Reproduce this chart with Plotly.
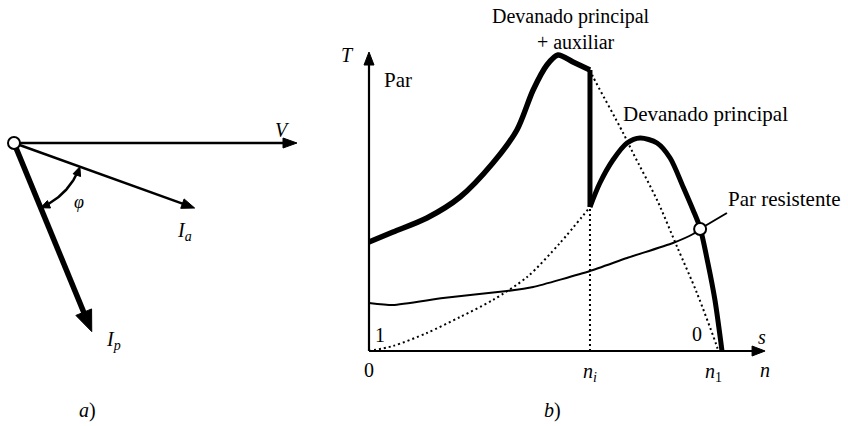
import numpy as np
import plotly.graph_objects as go

# ---------------- panel a) phasor data (magnitude, angle in degrees) ----------------
V_mag, V_ang = 2.83, 0.0
Ia_mag, Ia_ang = 1.92, -19.8
Ip_mag, Ip_ang = 2.04, -67.6
phi_radius = 0.70

# ---------------- panel b) torque-speed data ----------------
n_i = 0.626
n_1 = 1.0
# principal + auxiliary winding (thick, up to n_i)
aux_n = [0.0, 0.068, 0.164, 0.258, 0.351, 0.419, 0.465, 0.504, 0.535, 0.578, 0.626]
aux_T = [1.09, 1.19, 1.33, 1.54, 1.88, 2.21, 2.61, 2.86, 2.96, 2.89, 2.81]
# continuation of principal + auxiliary beyond n_i (dotted)
auxd_n = [0.626, 0.635, 0.720, 0.748, 0.816, 0.873, 0.929, 0.986, 0.989]
auxd_T = [2.81, 2.74, 2.18, 1.98, 1.51, 1.04, 0.58, 0.04, 0.0]
# principal winding alone below n_i (dotted)
prd_n = [0.0, 0.068, 0.164, 0.258, 0.351, 0.448, 0.541, 0.626]
prd_T = [0.0, 0.05, 0.18, 0.34, 0.51, 0.74, 1.08, 1.44]
# principal winding alone from n_i (thick)
pr_n = [0.626, 0.654, 0.691, 0.731, 0.768, 0.816, 0.853, 0.890, 0.918, 0.938, 0.960, 0.980, 1.0]
pr_T = [1.44, 1.68, 1.91, 2.08, 2.13, 2.08, 1.93, 1.64, 1.41, 1.23, 0.88, 0.51, 0.0]
# load torque (par resistente)
load_n = [0.0, 0.068, 0.210, 0.391, 0.465, 0.626, 0.731, 0.861, 0.918, 0.938, 1.014]
load_T = [0.48, 0.46, 0.53, 0.60, 0.64, 0.80, 0.93, 1.08, 1.17, 1.22, 1.38]
op_n, op_T = 0.938, 1.22

# ---------------- layout constants ----------------
W, H = 848, 426
A_S = 100.0                      # px per unit, panel a
A_OX, A_OY = 14, 143             # origin pixel of panel a
B_SX, B_SY = 353.0, 100.0        # px per unit, panel b
B_OX, B_OY = 369, 351            # origin pixel of panel b
B_XMAX, B_YMAX = 1.122, 2.99     # axis arrow extents (units)

FONT = "Liberation Serif"
BLK = "black"

fig = go.Figure()


def head(tx, ty, dx, dy, L, Wd, sx, sy, xa, ya):
    """filled triangular arrow head; (dx,dy) direction in pixel space (y up)."""
    nrm = np.hypot(dx, dy)
    ux, uy = dx / nrm, dy / nrm
    px, py = -uy, ux
    ox = [0, -L * ux + Wd / 2 * px, -L * ux - Wd / 2 * px, 0]
    oy = [0, -L * uy + Wd / 2 * py, -L * uy - Wd / 2 * py, 0]
    fig.add_trace(go.Scatter(x=[tx + o / sx for o in ox], y=[ty + o / sy for o in oy],
                             mode="lines", fill="toself", fillcolor=BLK,
                             line=dict(color=BLK, width=1), xaxis=xa, yaxis=ya,
                             hoverinfo="skip", showlegend=False))


def vector(mag, ang, width, L, Wd):
    a = np.radians(ang)
    tx, ty = mag * np.cos(a), mag * np.sin(a)
    ex, ey = tx - (L * 0.6 / A_S) * np.cos(a), ty - (L * 0.6 / A_S) * np.sin(a)
    fig.add_trace(go.Scatter(x=[0, ex], y=[0, ey], mode="lines",
                             line=dict(color=BLK, width=width), xaxis="x", yaxis="y",
                             hoverinfo="skip", showlegend=False))
    head(tx, ty, np.cos(a), np.sin(a), L, Wd, A_S, A_S, "x", "y")


# ---------------- panel a ----------------
vector(V_mag, V_ang, 2.5, 14, 10)
vector(Ia_mag, Ia_ang, 2.5, 13, 10)
vector(Ip_mag, Ip_ang, 5.5, 21, 17)

# phi arc with arrowheads at both ends
hl = 9.0
da = np.degrees(hl / (phi_radius * A_S))
th = np.radians(np.linspace(Ia_ang - da * 0.6, Ip_ang + da * 0.6, 40))
fig.add_trace(go.Scatter(x=phi_radius * np.cos(th), y=phi_radius * np.sin(th), mode="lines",
                         line=dict(color=BLK, width=2.5), xaxis="x", yaxis="y",
                         hoverinfo="skip", showlegend=False))
t1 = np.radians(Ia_ang)
head(phi_radius * np.cos(t1), phi_radius * np.sin(t1), -np.sin(t1), np.cos(t1), hl, 8, A_S, A_S, "x", "y")
t2 = np.radians(Ip_ang)
head(phi_radius * np.cos(t2), phi_radius * np.sin(t2), np.sin(t2), -np.cos(t2), hl, 8, A_S, A_S, "x", "y")

fig.add_trace(go.Scatter(x=[0], y=[0], mode="markers",
                         marker=dict(size=12, color="white", line=dict(color=BLK, width=2)),
                         xaxis="x", yaxis="y", hoverinfo="skip", showlegend=False))

# ---------------- panel b ----------------
def curve(xs, ys, width, dash=None, shape="spline", smoothing=0.8):
    fig.add_trace(go.Scatter(x=xs, y=ys, mode="lines",
                             line=dict(color=BLK, width=width, dash=dash, shape=shape,
                                       smoothing=smoothing if shape == "spline" else None),
                             xaxis="x2", yaxis="y2", hoverinfo="skip", showlegend=False))

# axes
curve([0, B_XMAX - 8 / B_SX], [0, 0], 2.2, shape="linear")
curve([0, 0], [0, B_YMAX - 8 / B_SY], 2.2, shape="linear")
head(B_XMAX, 0, 1, 0, 13, 10, B_SX, B_SY, "x2", "y2")
head(0, B_YMAX, 0, 1, 13, 10, B_SX, B_SY, "x2", "y2")

curve(prd_n, prd_T, 2, dash="2px,3px")
curve(auxd_n, auxd_T, 2, dash="2px,3px")
curve([n_i, n_i], [0, prd_T[-1]], 2, dash="2px,3px", shape="linear")
curve(load_n, load_T, 2, smoothing=0.5)
curve(aux_n, aux_T, 5.5)
curve([n_i, n_i], [aux_T[-1], pr_T[0]], 5, shape="linear")
curve(pr_n, pr_T, 5)

fig.add_trace(go.Scatter(x=[op_n], y=[op_T], mode="markers",
                         marker=dict(size=12, color="white", line=dict(color=BLK, width=2)),
                         xaxis="x2", yaxis="y2", hoverinfo="skip", showlegend=False))

# ---------------- text ----------------
def txt(x, y, s, xa, ya, size=20, xanchor="center"):
    fig.add_annotation(x=x, y=y, text=s, xref=xa, yref=ya, showarrow=False,
                       xanchor=xanchor, yanchor="middle",
                       font=dict(family=FONT, size=size, color=BLK))

txt(2.68, 0.13, "<i>V</i>", "x", "y")
txt(1.70, -0.88, "<i>I</i><sub><i>a</i></sub>", "x", "y")
txt(0.99, -1.97, "<i>I</i><sub><i>p</i></sub>", "x", "y")
txt(0.65, -0.59, "<i>φ</i>", "x", "y", size=18)
txt(0.73, -2.67, "<i>a</i>)", "x", "y")

txt(0.572, 3.22, "Devanado principal<br>  + auxiliar", "x2", "y2", size=20)
txt(0.952, 2.37, "Devanado principal", "x2", "y2", size=21)
txt(1.010, 1.52, "Par resistente", "x2", "y2", size=21, xanchor="left")
txt(0.037, 2.71, "Par", "x2", "y2", size=21, xanchor="left")
txt(-0.062, 2.96, "<i>T</i>", "x2", "y2")
txt(0.031, 0.16, "1", "x2", "y2")
txt(0.929, 0.17, "0", "x2", "y2")
txt(1.114, 0.14, "<i>s</i>", "x2", "y2")
txt(1.122, -0.19, "<i>n</i>", "x2", "y2")
txt(0.0, -0.19, "0", "x2", "y2")
txt(n_i, -0.21, "<i>n</i><sub><i>i</i></sub>", "x2", "y2")
txt(0.975, -0.21, "<i>n</i><sub>1</sub>", "x2", "y2")
txt(0.521, -0.59, "<i>b</i>)", "x2", "y2")

hidden = dict(visible=False, showgrid=False, zeroline=False, fixedrange=True)
fig.update_layout(
    width=W, height=H, autosize=False,
    margin=dict(l=0, r=0, t=0, b=0, pad=0),
    paper_bgcolor="white", plot_bgcolor="white",
    font=dict(family=FONT, color=BLK),
    showlegend=False,
    xaxis=dict(domain=[0, 1], range=[-A_OX / A_S, (W - A_OX) / A_S], **hidden),
    yaxis=dict(domain=[0, 1], range=[-(H - A_OY) / A_S, A_OY / A_S], **hidden),
    xaxis2=dict(domain=[0, 1], range=[-B_OX / B_SX, (W - B_OX) / B_SX], overlaying="x", anchor="y2", **hidden),
    yaxis2=dict(domain=[0, 1], range=[-(H - B_OY) / B_SY, B_OY / B_SY], overlaying="y", anchor="x2", **hidden),
)

fig.write_html("out.html", config={"displayModeBar": False},
               post_script="document.body.style.margin='0';document.body.style.overflow='hidden';")
